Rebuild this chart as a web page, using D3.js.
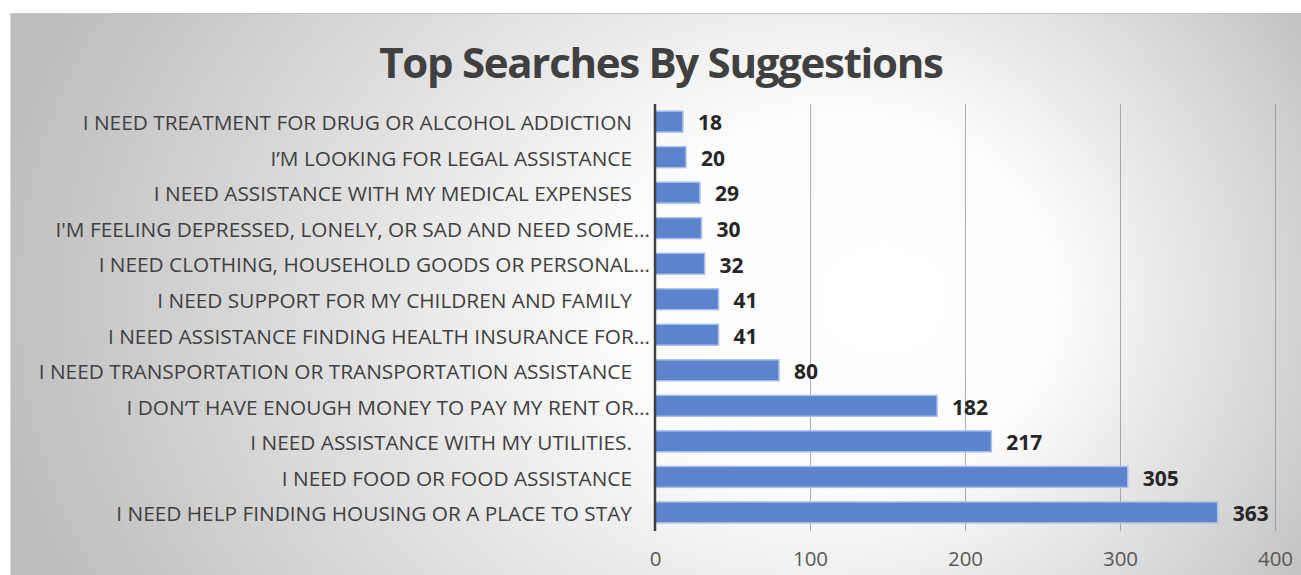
<!DOCTYPE html>
<html>
<head>
<meta charset="utf-8">
<script src="https://cdn.jsdelivr.net/npm/d3@7"></script>
<style>
  html, body { margin: 0; padding: 0; background: #ffffff; }
  svg { display: block; }
  text { font-family: "Open Sans", "Noto Sans", sans-serif; }
</style>
</head>
<body>
<svg id="chart" width="1301" height="575"></svg>
<script>
// Search suggestions and how often each was picked (top of list first)
const categories = [
  "I NEED TREATMENT FOR DRUG OR ALCOHOL ADDICTION",
  "I\u2019M LOOKING FOR LEGAL ASSISTANCE",
  "I NEED ASSISTANCE WITH MY MEDICAL EXPENSES",
  "I'M FEELING DEPRESSED, LONELY, OR SAD AND NEED SOME\u2026",
  "I NEED CLOTHING, HOUSEHOLD GOODS OR PERSONAL\u2026",
  "I NEED SUPPORT FOR MY CHILDREN AND FAMILY",
  "I NEED ASSISTANCE FINDING HEALTH INSURANCE FOR\u2026",
  "I NEED TRANSPORTATION OR TRANSPORTATION ASSISTANCE",
  "I DON\u2019T HAVE ENOUGH MONEY TO PAY MY RENT OR\u2026",
  "I NEED ASSISTANCE WITH MY UTILITIES.",
  "I NEED FOOD OR FOOD ASSISTANCE",
  "I NEED HELP FINDING HOUSING OR A PLACE TO STAY"
];
const counts = [18, 20, 29, 30, 32, 41, 41, 80, 182, 217, 305, 363];
const xTicks = [0, 100, 200, 300, 400];
const chartTitle = "Top Searches By Suggestions";

const svg = d3.select("#chart");

// Chart area with soft radial shading
const defs = svg.append("defs");
const grad = defs.append("radialGradient")
  .attr("id", "bgGrad")
  .attr("gradientUnits", "userSpaceOnUse")
  .attr("cx", 700).attr("cy", 300).attr("r", 720)
  .attr("fx", 900).attr("fy", 300)
  .attr("gradientTransform", "translate(0,300) scale(1,0.85) translate(0,-300)");
grad.append("stop").attr("offset", 0).attr("stop-color", "#ffffff");
grad.append("stop").attr("offset", 0.3).attr("stop-color", "#fdfdfd");
grad.append("stop").attr("offset", 1).attr("stop-color", "#bdbdbd");

svg.append("rect")
  .attr("x", 10).attr("y", 13)
  .attr("width", 1301).attr("height", 570)
  .attr("fill", "url(#bgGrad)");
svg.append("line")
  .attr("x1", 10).attr("x2", 1301).attr("y1", 13.5).attr("y2", 13.5)
  .attr("stroke", "#c4c4c4").attr("stroke-width", 1);
svg.append("line")
  .attr("x1", 10.5).attr("x2", 10.5).attr("y1", 13).attr("y2", 575)
  .attr("stroke", "#d6d6d6").attr("stroke-width", 1);

// Title
svg.append("text")
  .attr("x", 661).attr("y", 78)
  .attr("text-anchor", "middle")
  .attr("font-size", 42)
  .attr("font-weight", "bold")
  .attr("letter-spacing", "-1.3px")
  .attr("fill", "#404040")
  .text(chartTitle);

// Scales
const x = d3.scaleLinear().domain([0, 400]).range([655, 1275]);
const y = d3.scaleBand().domain(categories).range([104, 530]).paddingInner(0.41).paddingOuter(0.2);

// Vertical gridlines
svg.append("g")
  .selectAll("line")
  .data(xTicks.filter(d => d > 0))
  .join("line")
  .attr("x1", d => x(d) + 0.5).attr("x2", d => x(d) + 0.5)
  .attr("y1", 104).attr("y2", 531)
  .attr("stroke", "#8c8c8c").attr("stroke-opacity", 0.7).attr("stroke-width", 1);

// Bars
svg.append("g")
  .selectAll("rect")
  .data(categories)
  .join("rect")
  .attr("x", x(0))
  .attr("y", d => y(d))
  .attr("width", (d, i) => x(counts[i]) - x(0))
  .attr("height", y.bandwidth())
  .attr("fill", "#5b84cc")
  .attr("stroke", "#a9c1ea")
  .attr("stroke-width", 1.5);

// Value labels
svg.append("g")
  .selectAll("text")
  .data(categories)
  .join("text")
  .attr("x", (d, i) => x(counts[i]) + 15)
  .attr("y", d => y(d) + y.bandwidth() / 2)
  .attr("dy", "0.42em")
  .attr("font-size", 21)
  .attr("font-weight", "bold")
  .attr("fill", "#262626")
  .text((d, i) => counts[i]);

// Category axis (left)
const yAxis = svg.append("g")
  .attr("transform", `translate(${x(0)},0)`)
  .call(d3.axisLeft(y).tickSize(0).tickPadding(0));
yAxis.select(".domain").remove();
yAxis.selectAll("text")
  .attr("x", d => d.endsWith("\u2026") ? -5 : -23)
  .attr("dy", "0.42em")
  .attr("font-size", 20.8)
  .attr("fill", "#404040")
  .attr("font-family", "'Open Sans', 'Noto Sans', sans-serif");

// Axis line at zero
svg.append("line")
  .attr("x1", x(0)).attr("x2", x(0))
  .attr("y1", 104).attr("y2", 531)
  .attr("stroke", "#404040").attr("stroke-width", 2.5);

// Value axis (bottom), labels only
const xAxis = svg.append("g")
  .attr("transform", "translate(0,551)")
  .call(d3.axisBottom(x).tickValues(xTicks).tickSize(0).tickPadding(0));
xAxis.select(".domain").remove();
xAxis.selectAll("text")
  .attr("dy", "0.71em")
  .attr("font-size", 20.5)
  .attr("fill", "#595959")
  .attr("font-family", "'Open Sans', 'Noto Sans', sans-serif");
</script>
</body>
</html>
